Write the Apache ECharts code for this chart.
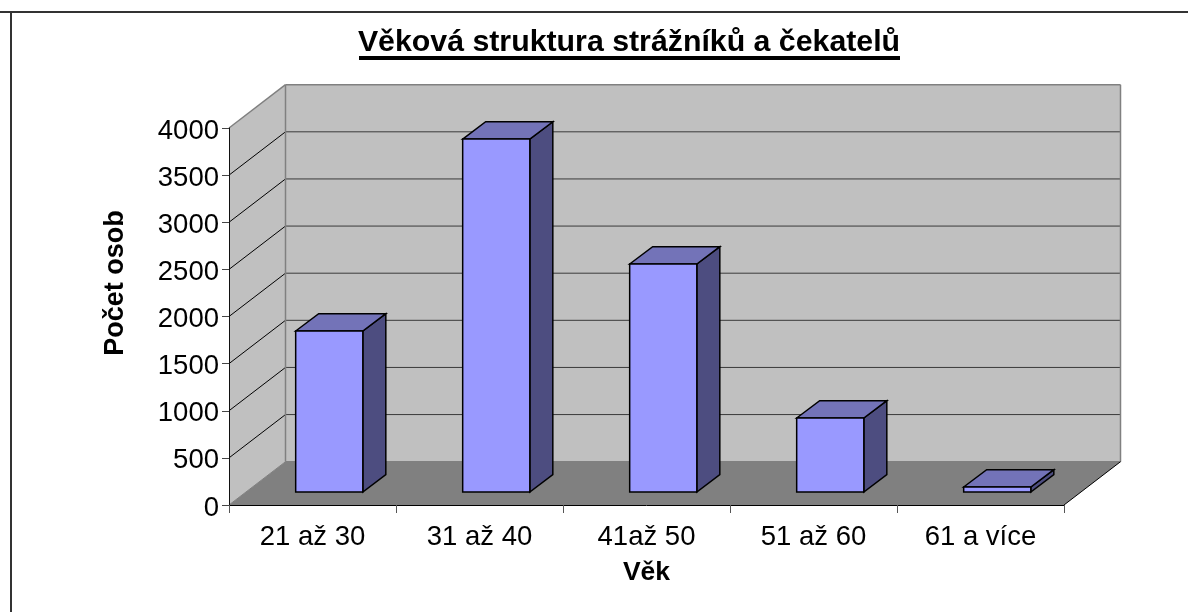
<!DOCTYPE html>
<html><head><meta charset="utf-8">
<style>html,body{margin:0;padding:0;background:#fff}#c{width:1188px;height:612px}</style>
<script src="https://cdn.jsdelivr.net/npm/echarts@6/dist/echarts.min.js"></script>
</head><body><div id="c"></div>
<script>
const categories = ['21 až 30', '31 až 40', '41až 50', '51 až 60', '61 a více'];
const values = [1708, 3745, 2419, 785, 53];
const tickValues = [0, 500, 1000, 1500, 2000, 2500, 3000, 3500, 4000];
const titleText = 'Věková struktura strážníků a čekatelů';
const yName = 'Počet osob';
const xName = 'Věk';

const WD = [56.5, -43.3];   // wall depth offset
const BD = [23, -17.3];     // bar depth offset
const FONT = '"Liberation Sans", Arial, sans-serif';

function poly(points, fill, stroke, lw) {
  return { type: 'polygon', shape: { points }, style: { fill, stroke, lineWidth: lw, lineJoin: 'miter' } };
}
function line(x1, y1, x2, y2, stroke, lw) {
  return { type: 'line', shape: { x1, y1, x2, y2 }, style: { stroke, lineWidth: lw, fill: null } };
}
function renderWalls(params, api) {
  const r = params.coordSys;
  const L = r.x, R = r.x + r.width, T = r.y, B = r.y + r.height;
  const [dx, dy] = WD;
  const ch = [
    poly([[L + dx, T + dy], [R + dx, T + dy], [R + dx, B + dy], [L + dx, B + dy]], '#c0c0c0', null, 0),
    poly([[L, T], [L + dx, T + dy], [L + dx, B + dy], [L, B]], '#c0c0c0', null, 0),
    poly([[L, B], [L + dx, B + dy], [R + dx, B + dy], [R, B]], '#808080', null, 0)
  ];
  tickValues.forEach(v => {
    if (v === 0 || v === tickValues[tickValues.length - 1]) return;
    const y = api.coord([0, v])[1];
    ch.push(line(L, y, L + dx, y + dy, '#000', 1));
    ch.push(line(L + dx, y + dy, R + dx, y + dy, '#3a3a3a', 1));
  });
  ch.push(line(L, T, L + dx, T + dy, '#808080', 1.5));
  ch.push(line(L + dx, T + dy, R + dx, T + dy, '#808080', 1.5));
  ch.push(line(R + dx, T + dy, R + dx, B + dy, '#808080', 1.5));
  ch.push(line(L + dx, T + dy, L + dx, B + dy, '#808080', 1.5));
  ch.push(line(L + dx, B + dy, R + dx, B + dy, '#808080', 1.5));
  ch.push(line(L, B, L + dx, B + dy, '#808080', 1));
  ch.push(line(R, B, R + dx, B + dy, '#000', 1));
  return { type: 'group', children: ch };
}
function renderBar(params, api) {
  const i = api.value(0), v = api.value(1);
  const cw = api.size([1, 0])[0];
  const w = cw * 0.402;
  const ox = (WD[0] - BD[0]) / 2, oy = (WD[1] - BD[1]) / 2;
  const top = api.coord([i, v]), base = api.coord([i, 0]);
  const x0 = base[0] - w / 2 + ox, x1 = x0 + w;
  const yB = base[1] + oy, yT = top[1] + oy;
  const [dx, dy] = BD;
  return {
    type: 'group',
    children: [
      poly([[x1, yT], [x1 + dx, yT + dy], [x1 + dx, yB + dy], [x1, yB]], '#4d4d80', '#000', 1.5),
      poly([[x0, yT], [x0 + dx, yT + dy], [x1 + dx, yT + dy], [x1, yT]], '#7373b8', '#000', 1.5),
      poly([[x0, yT], [x1, yT], [x1, yB], [x0, yB]], '#9999ff', '#000', 1.5)
    ]
  };
}
const chart = echarts.init(document.getElementById('c'), null, { renderer: 'canvas' });
chart.setOption({
  animation: false,
  backgroundColor: '#fff',
  title: {
    text: titleText, left: 624, top: 23, textAlign: 'center',
    textStyle: { fontFamily: FONT, fontWeight: 'bold', fontSize: 30.3, color: '#000' }
  },
  graphic: [
    { type: 'line', shape: { x1: 0, y1: 12, x2: 1188, y2: 12 }, style: { stroke: '#333', lineWidth: 2 }, silent: true, z: 100 },
    { type: 'line', shape: { x1: 11, y1: 11, x2: 11, y2: 612 }, style: { stroke: '#333', lineWidth: 2 }, silent: true, z: 100 },
    { type: 'line', shape: { x1: 359, y1: 58, x2: 900, y2: 58 }, style: { stroke: '#000', lineWidth: 4 }, silent: true, z: 100 },
    { type: 'text', x: 116, y: 283, rotation: Math.PI / 2, silent: true, z: 100,
      style: { text: yName, font: 'bold 27px ' + FONT, fill: '#000', align: 'center', verticalAlign: 'middle' } }
  ],
  grid: { left: 229, top: 128, width: 835, height: 377, containLabel: false },
  xAxis: {
    type: 'category', data: categories, z: 10,
    name: xName, nameLocation: 'middle', nameGap: 54,
    nameTextStyle: { fontFamily: FONT, fontWeight: 'bold', fontSize: 26.5, color: '#000' },
    axisLine: { lineStyle: { color: '#000', width: 1 } },
    axisTick: { show: true, length: 8, lineStyle: { color: '#555' } },
    axisLabel: { fontFamily: FONT, fontSize: 27.5, color: '#000', margin: 18 },
    splitLine: { show: false }
  },
  yAxis: {
    type: 'value', min: 0, max: 4000, interval: 500, z: 10,
    axisLine: { show: true, lineStyle: { color: '#111', width: 1 } },
    axisTick: { show: true, length: 7, lineStyle: { color: '#444' } },
    axisLabel: { fontFamily: FONT, fontSize: 27.5, color: '#000', margin: 10, verticalAlign: 'top', lineHeight: 6,
      formatter: v => String(v) },
    splitLine: { show: false }
  },
  series: [
    { type: 'custom', z: 1, silent: true, clip: false, renderItem: renderWalls, data: [[0, 0]], encode: { x: 0, y: 1 } },
    { type: 'custom', z: 2, silent: true, clip: false, renderItem: renderBar,
      data: values.map((v, i) => [i, v]), encode: { x: 0, y: 1 } }
  ]
});
</script></body></html>
